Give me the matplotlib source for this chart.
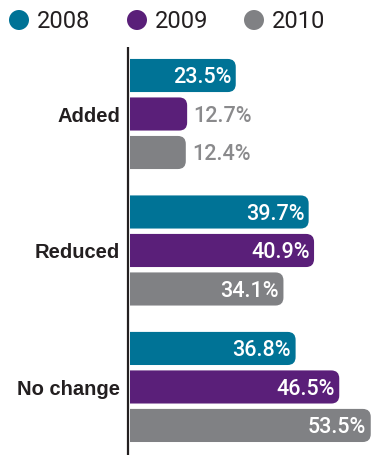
import matplotlib
matplotlib.use("Agg")
import matplotlib.pyplot as plt
from matplotlib.patches import FancyBboxPatch, Rectangle, Ellipse

# survey answers, share of respondents (%)
categories = ["Added", "Reduced", "No change"]
years = ["2008", "2009", "2010"]
values_2008 = [23.5, 39.7, 36.8]
values_2009 = [12.7, 40.9, 46.5]
values_2010 = [12.4, 34.1, 53.5]
series = [values_2008, values_2009, values_2010]
colors = ["#007396", "#5a1f79", "#808184"]

W, H, DPI = 371, 456, 100
PX_X = 4.5          # pixels per percent
ZERO_X = 130        # pixel column of the zero line
PITCH = 38.5        # pixels between bars in a group
GROUP_GAP = 3.545   # group spacing, in bar pitches
TOP = 76.5          # centre of first bar in pixels
BAR_H = 0.86
RADIUS_PX = 8

fig = plt.figure(figsize=(W / DPI, H / DPI), dpi=DPI)
ax = fig.add_axes([0, 0, 1, 1])
ax.set_xlim(-ZERO_X / PX_X, (W - ZERO_X) / PX_X)
ax.set_ylim((H - TOP) / PITCH, -TOP / PITCH)
ax.axis("off")

aspect = (1 / PITCH) / (1 / PX_X)
r = RADIUS_PX / PX_X

for gi, cat in enumerate(categories):
    for si, vals in enumerate(series):
        v = vals[gi]
        yc = gi * GROUP_GAP + si
        y0 = yc - BAR_H / 2
        patch = FancyBboxPatch((-r, y0), v + r, BAR_H,
                               boxstyle=f"round,pad=0,rounding_size={r}",
                               mutation_aspect=aspect,
                               fc=colors[si], ec="none", zorder=2)
        ax.add_patch(patch)
        clip = Rectangle((0, y0 - 1), 200, BAR_H + 2, transform=ax.transData)
        patch.set_clip_path(clip)
        txt = f"{v}%"
        if v > 20:
            ax.text(v - 1.0, yc + 0.03, txt, ha="right", va="center",
                    color="white", fontsize=15.5, family="Roboto",
                    fontweight="medium", zorder=3)
        else:
            ax.text(v + 1.4, yc + 0.03, txt, ha="left", va="center",
                    color="#8a8a8c", fontsize=15.5, family="Roboto",
                    fontweight="medium", zorder=3)
    ax.text(-2.2, gi * GROUP_GAP + 1 + 0.03, cat, ha="right", va="center",
            color="#231f20", fontsize=14.5, family="Liberation Sans",
            fontweight="bold")

# zero line
ax.plot([-0.45, -0.45], [(48 - TOP) / PITCH, (H - TOP) / PITCH],
        color="#231f20", lw=1.6, solid_capstyle="butt", zorder=4)

# legend across the top
legend_x = [19, 137, 254]
for lx, yr, c in zip(legend_x, years, colors):
    fig.add_artist(Ellipse((lx / W, 1 - 21 / H), 20 / W, 20 / H, fc=c,
                           ec="none", transform=fig.transFigure))
    fig.text((lx + 18) / W, 1 - 21 / H, yr, ha="left", va="center",
             fontsize=17, color="#231f20", family="Roboto")

fig.savefig("out.png", dpi=DPI)
